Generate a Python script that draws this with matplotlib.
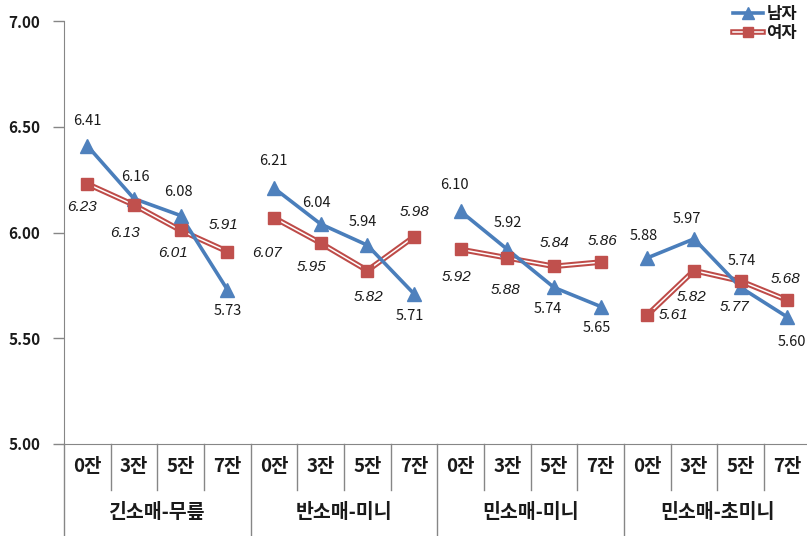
import numpy as np
import matplotlib
matplotlib.use("Agg")
import matplotlib.pyplot as plt
import matplotlib.patheffects as pe
from matplotlib.lines import Line2D

plt.rcParams["font.family"] = ["Noto Sans CJK KR", "DejaVu Sans"]

# data
groups = ["긴소매-무릎", "반소매-미니", "민소매-미니", "민소매-초미니"]
steps = ["0잔", "3잔", "5잔", "7잔"]
male = [6.41, 6.16, 6.08, 5.73, 6.21, 6.04, 5.94, 5.71,
        6.10, 5.92, 5.74, 5.65, 5.88, 5.97, 5.74, 5.60]
female = [6.23, 6.13, 6.01, 5.91, 6.07, 5.95, 5.82, 5.98,
          5.92, 5.88, 5.84, 5.86, 5.61, 5.82, 5.77, 5.68]

# label offsets in pixels (dx, dy), dy positive = up
male_off = [(0, 25), (1, 22), (-2, 24), (0, -21), (-1, 27), (-4, 21), (-5, 23), (-4, -22),
            (-6, 26), (0, 26), (-6, -22), (-4, -21), (-4, 22), (-7, 20), (1, 26), (5, -25)]
female_off = [(-5, -23), (-9, -28), (-8, -23), (-4, 27), (-7, -35), (-9, -24), (1, -26), (1, 25),
              (-4, -28), (-2, -32), (1, 23), (2, 21), (26, 0), (-2, -26), (-6, -26), (-2, 21)]

blue = "#4A7EBB"
blue_m = "#4F81BD"
red = "#BE4B48"
red_m = "#C0504D"
txt = "#1a1a1a"

fig = plt.figure(figsize=(8.07, 5.36), dpi=100)
ax = fig.add_axes([64 / 807, 92 / 536, 746.7 / 807, 423 / 536])

x = np.arange(len(male))

for g in range(len(groups)):
    s = slice(4 * g, 4 * g + 4)
    ax.plot(x[s], male[s], color=blue, lw=2.6, solid_capstyle="butt", zorder=3)
    ax.plot(x[s], male[s], ls="none", marker="^", ms=10, color=blue_m, zorder=4)
    ax.plot(x[s], female[s], color="white", lw=1.1, zorder=2,
            path_effects=[pe.Stroke(linewidth=4, foreground=red), pe.Normal()])
    ax.plot(x[s], female[s], ls="none", marker="s", ms=8.5, color=red_m, zorder=4)

for i in range(len(male)):
    ax.annotate(f"{male[i]:.2f}", (x[i], male[i]), xytext=male_off[i],
                textcoords="offset pixels", ha="center", va="center",
                fontsize=10.5, color=txt, zorder=5)
    ax.annotate(f"{female[i]:.2f}", (x[i], female[i]), xytext=female_off[i],
                textcoords="offset pixels", ha="center", va="center",
                family=["Liberation Sans", "DejaVu Sans"], style="italic",
                fontsize=11, color=txt, zorder=5)

ax.set_xlim(-0.5, 15.5)
ax.set_ylim(5.0, 7.0)
ax.set_yticks([5.0, 5.5, 6.0, 6.5, 7.0])
ax.set_yticklabels([f"{v:.2f}" for v in ax.get_yticks()], fontsize=11, fontweight="bold")
ax.tick_params(axis="y", length=8, width=1, color="#868686", pad=9, labelcolor=txt)
ax.set_xticks([])

for sp in ["top", "right"]:
    ax.spines[sp].set_visible(False)
for sp in ["left", "bottom"]:
    ax.spines[sp].set_color("#868686")

# category axis (two levels)
trans = ax.get_xaxis_transform()
sub_bottom = -46 / 423
fig_bottom = -92 / 423
for b in np.arange(-0.5, 16, 1.0):
    if (b + 0.5) % 4 == 0:
        ax.plot([b, b], [0, fig_bottom], transform=trans, color="#868686", lw=1, clip_on=False)
    else:
        ax.plot([b, b], [0, sub_bottom], transform=trans, color="#868686", lw=1, clip_on=False)

for i in range(len(male)):
    ax.text(x[i], -23 / 423, steps[i % 4], transform=trans, ha="center", va="center",
            fontsize=13.5, fontweight="bold", color=txt)
for g, name in enumerate(groups):
    ax.text(4 * g + 1.5, -68 / 423, name, transform=trans, ha="center", va="center",
            fontsize=14, fontweight="bold", color=txt)

# legend
h_male = (Line2D([], [], color=blue, lw=2.6),
          Line2D([], [], ls="none", marker="^", ms=8, color=blue_m))
h_female = (Line2D([], [], color="white", lw=1.1,
                   path_effects=[pe.Stroke(linewidth=4, foreground=red), pe.Normal()]),
            Line2D([], [], ls="none", marker="s", ms=7, color=red_m))
leg = ax.legend([h_male, h_female], ["남자", "여자"], loc="upper right",
                bbox_to_anchor=(1.0, 1.01), bbox_transform=fig.transFigure,
                frameon=False, fontsize=12, handlelength=1.8, handletextpad=0.2,
                labelspacing=0.1, borderaxespad=0.2)
for t in leg.get_texts():
    t.set_fontweight("bold")
    t.set_color(txt)

fig.savefig("out.png", dpi=100)
